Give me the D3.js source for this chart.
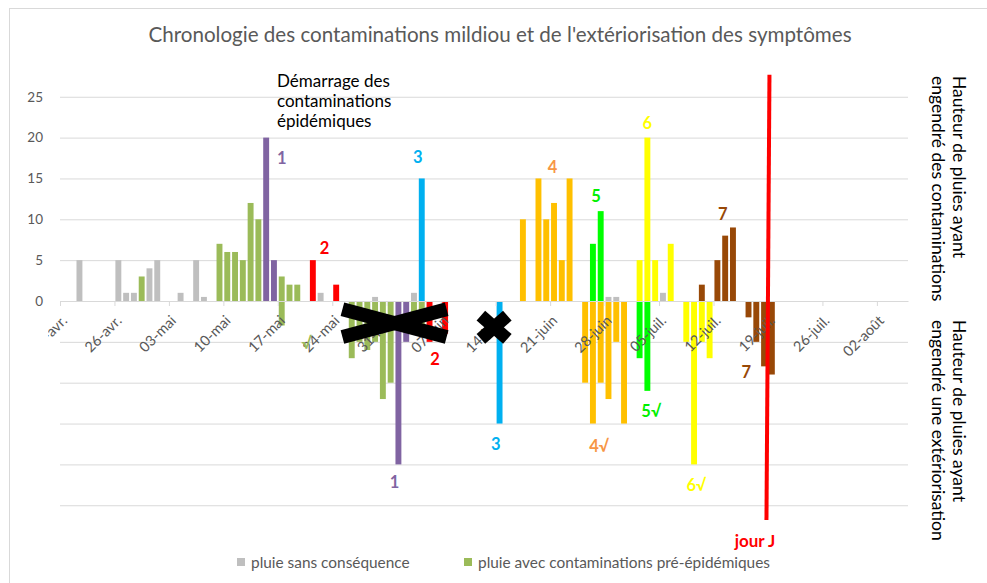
<!DOCTYPE html>
<html><head><meta charset="utf-8">
<script src="https://cdn.jsdelivr.net/npm/d3@7"></script>
<style>body{margin:0;background:#fff}svg{display:block;font-family:Lato,'Open Sans',sans-serif}</style>
</head><body><svg id="c" width="987" height="583"></svg>
<script>
// ---------- DATA ----------
const startDate = "2021-04-19";
const endDate = "2021-08-06";
const tickDates = ["2021-04-19","2021-04-26","2021-05-03","2021-05-10","2021-05-17","2021-05-24","2021-05-31","2021-06-07","2021-06-14","2021-06-21","2021-06-28","2021-07-05","2021-07-12","2021-07-19","2021-07-26","2021-08-02"];
const tickLabels = ["19-avr.","26-avr.","03-mai","10-mai","17-mai","24-mai","31-mai","07-juin","14-juin","21-juin","28-juin","05-juil.","12-juil.","19-juil.","26-juil.","02-août"];
const yTickValues = [0,5,10,15,20,25];
const gridValues = [-25,-20,-15,-10,-5,0,5,10,15,20,25];

// rain having caused contaminations (upper bars)
const upDates = ["2021-04-21","2021-04-26","2021-04-27","2021-04-28","2021-04-29","2021-04-30","2021-05-01","2021-05-04","2021-05-06","2021-05-07",
  "2021-05-09","2021-05-10","2021-05-11","2021-05-12","2021-05-13","2021-05-14","2021-05-15","2021-05-16","2021-05-17","2021-05-18","2021-05-19",
  "2021-05-21","2021-05-22","2021-05-24","2021-05-29","2021-06-03","2021-06-04",
  "2021-06-17","2021-06-19","2021-06-20","2021-06-21","2021-06-22","2021-06-23",
  "2021-06-26","2021-06-27","2021-06-28","2021-06-29",
  "2021-07-02","2021-07-03","2021-07-04","2021-07-05","2021-07-06",
  "2021-07-10","2021-07-12","2021-07-13","2021-07-14"];
const upValues = [5,5,1,1,3,4,5,1,5,0.5,
  7,6,6,5,12,10,20,5,3,2,2,
  5,1,2,0.5,1,15,
  10,15,10,12,5,15,
  7,11,0.5,0.5,
  5,20,5,1,7,
  2,5,8,9];
const upGroups = ["sans","sans","sans","sans","pre","sans","sans","sans","sans","sans",
  "pre","pre","pre","pre","pre","pre","1","1","pre","pre","pre",
  "2","sans","2","sans","sans","3",
  "4","4","4","4","4","4",
  "5","5","sans","sans",
  "6","6","6","sans","6",
  "7","7","7","7"];

// rain having caused an exteriorisation (lower bars)
const downDates = ["2021-05-17","2021-05-26","2021-05-27","2021-05-28","2021-05-29","2021-05-30","2021-05-31","2021-06-01","2021-06-02","2021-06-03","2021-06-04","2021-06-05","2021-06-07",
  "2021-06-14",
  "2021-06-25","2021-06-26","2021-06-27","2021-06-28","2021-06-29","2021-06-30",
  "2021-07-02","2021-07-03",
  "2021-07-08","2021-07-09","2021-07-10","2021-07-11",
  "2021-07-16","2021-07-17","2021-07-18","2021-07-19"];
const downValues = [-3,-7,-5,-6,-5,-12,-10,-20,-5,-4,-3,-5,-4,
  -15,
  -10,-15,-10,-12,-5,-15,
  -7,-11,
  -5,-20,-5,-7,
  -2,-5,-8,-9];
const downGroups = ["pre","pre","pre","pre","pre","pre","pre","1","1","pre","pre","2","2",
  "3",
  "4","4","4","4","4","4",
  "5","5",
  "6","6","6","6",
  "7","7","7","7"];

const groupKeys = ["sans","pre","1","2","3","4","5","6","7"];
const groupColors = ["#BFBFBF","#9BBB59","#8064A2","#FF0000","#00B0F0","#FFC000","#00FF00","#FFFF00","#984807"];

// period labels (day offset from start, value)
const upLabelTexts = ["1","2","3","4","5","6","7"];
const upLabelDays = [28.5,34.0,46.0,63.3,68.9,75.5,85.2];
const upLabelValues = [17.5,6.5,17.6,16.4,12.9,21.8,10.6];
const downLabelTexts = ["√","1","2","3","4√","5√","6√","7"];
const downLabelDays = [31.7,43.0,48.2,56.0,69.3,76.0,81.8,88.2];
const downLabelValues = [-5.1,-22.1,-7.1,-17.5,-17.7,-13.5,-22.5,-8.7];
const labelColors = {"1":"#8064A2","2":"#FF0000","3":"#00B0F0","4":"#F79646","5":"#00F000","6":"#FFFF00","7":"#984807","√":"#9BBB59"};

const jourJDate = "2021-07-19";
const jourJTop = 27.7, jourJBottom = -26.8;

const legendLabels = ["pluie sans conséquence","pluie avec contaminations pré-épidémiques"];
const legendKeys = ["sans","pre"];

const title = "Chronologie des contaminations mildiou et de l'extériorisation des symptômes";
const noteLines = ["Démarrage des","contaminations","épidémiques"];
const rightTop = ["Hauteur de pluies ayant","engendré des contaminations"];
const rightBottom = ["Hauteur de pluies ayant","engendré une extériorisation"];

// crossed-out periods (day offsets, values)
const crosses = [{d0:36.3,d1:49.7,v0:-1.0,v1:-4.4,w:14},{d0:54.1,d1:57.5,v0:-1.8,v1:-4.65,w:13}];

// ---------- DRAW ----------
const W = 987, H = 583;
const svg = d3.select("#c");
const parse = d3.timeParse("%Y-%m-%d");
const t0 = parse(startDate), t1 = parse(endDate);
const nDays = d3.timeDay.count(t0, t1);
const plot = {left:60, right:908};
const xDay = d3.scaleLinear().domain([0,nDays]).range([plot.left, plot.right]);
const xTime = d3.scaleTime().domain([t0,t1]).range([plot.left, plot.right]);
const y = d3.scaleLinear().domain([-25,25]).range([505.25,96.75]);
const color = d3.scaleOrdinal().domain(groupKeys).range(groupColors);
const step = xDay(1)-xDay(0);
const bw = step*0.76;
const dayOf = s => d3.timeDay.count(t0, parse(s));

svg.append("rect").attr("width",W).attr("height",H).attr("fill","#fff");
svg.append("rect").attr("x",9.5).attr("y",8.5).attr("width",W+20).attr("height",H+20)
  .attr("fill","none").attr("stroke","#D9D9D9");

// title
svg.append("text").attr("x",500).attr("y",41.5).attr("text-anchor","middle")
  .attr("font-size",20.6).attr("fill","#595959").text(title);

// grid
svg.append("g").attr("transform",`translate(${plot.left},0)`)
  .call(d3.axisLeft(y).tickValues(gridValues).tickSize(-(plot.right-plot.left)).tickFormat(""))
  .call(g=>g.select(".domain").remove())
  .call(g=>g.selectAll("line").attr("stroke","#D9D9D9"));

// y labels
svg.append("g").attr("transform",`translate(${plot.left},0)`)
  .call(d3.axisLeft(y).tickValues(yTickValues).tickSize(0).tickPadding(17))
  .call(g=>g.select(".domain").remove())
  .call(g=>g.selectAll("text").attr("font-family","Lato").attr("font-size",13.5).attr("fill","#595959"));

// bars
const up = upDates.map((d,i)=>({day:dayOf(d),v:upValues[i],g:upGroups[i]}));
const down = downDates.map((d,i)=>({day:dayOf(d),v:downValues[i],g:downGroups[i]}));
svg.append("g").selectAll("rect").data(up.concat(down)).join("rect")
  .attr("x",d=>xDay(d.day)+(step-bw)/2).attr("width",bw)
  .attr("y",d=>y(Math.max(0,d.v))).attr("height",d=>Math.abs(y(d.v)-y(0)))
  .attr("fill",d=>color(d.g));

// x axis
const clip = svg.append("clipPath").attr("id","xclip");
clip.append("rect").attr("x",48).attr("y",0).attr("width",W).attr("height",H);
const xAxis = svg.append("g").attr("transform",`translate(0,${y(0)})`).attr("clip-path","url(#xclip)")
  .call(d3.axisBottom(xTime).tickValues(tickDates.map(parse)).tickSize(5).tickSizeOuter(0)
    .tickFormat((d,i)=>tickLabels[i]));
xAxis.select(".domain").attr("stroke","#D9D9D9");
xAxis.selectAll("line").attr("stroke","#D9D9D9");
xAxis.selectAll("text").attr("font-family","Lato").attr("font-size",14.5).attr("fill","#595959")
  .attr("x",0).attr("y",0).attr("dy","0.35em").attr("text-anchor","end")
  .attr("transform","translate(4,17) rotate(-45)");

// jour J line
const xj = xTime(parse(jourJDate));
svg.append("line").attr("x1",xj+1.5).attr("x2",xj-1.5).attr("y1",y(jourJTop)).attr("y2",y(jourJBottom))
  .attr("stroke","#FF0000").attr("stroke-width",4);

// labels
svg.append("g").selectAll("text").data(upLabelTexts).join("text")
  .attr("x",(d,i)=>xDay(upLabelDays[i])).attr("y",(d,i)=>y(upLabelValues[i]))
  .attr("text-anchor","middle").attr("dominant-baseline","central")
  .attr("font-size",16.5).attr("font-weight","bold").attr("fill",d=>labelColors[d[0]]).text(d=>d);
svg.append("g").selectAll("text").data(downLabelTexts).join("text")
  .attr("x",(d,i)=>xDay(downLabelDays[i])).attr("y",(d,i)=>y(downLabelValues[i]))
  .attr("text-anchor","middle").attr("dominant-baseline","central")
  .attr("font-size",16.5).attr("font-weight","bold").attr("fill",d=>labelColors[d[0]]).text(d=>d);
svg.append("text").attr("x",xj-13).attr("y",540).attr("text-anchor","middle").attr("dominant-baseline","central")
  .attr("font-size",17).attr("font-weight","bold").attr("fill","#FF0000").text("jour J");

// note
svg.append("g").selectAll("text").data(noteLines).join("text")
  .attr("x",277).attr("y",(d,i)=>87+i*20).attr("font-size",17).attr("fill","#000").text(d=>d);

// right vertical titles
function vtitle(lines, yTop){
  svg.append("g").selectAll("text").data(lines).join("text")
    .attr("transform",(d,i)=>`translate(${953-i*21},${yTop}) rotate(90)`)
    .attr("font-size",17.5).attr("fill","#000").text(d=>d);
}
vtitle(rightTop, 76);
vtitle(rightBottom, 320);

// crosses
const cg = svg.append("g");
crosses.forEach(c=>{
  [[c.v0,c.v1],[c.v1,c.v0]].forEach(([a,b])=>{
    cg.append("line").attr("x1",xDay(c.d0)).attr("x2",xDay(c.d1)).attr("y1",y(a)).attr("y2",y(b))
      .attr("stroke","#000").attr("stroke-width",c.w);
  });
});

// legend
const lx = [237,464];
legendLabels.forEach((t,i)=>{
  svg.append("rect").attr("x",lx[i]).attr("y",558).attr("width",8).attr("height",8).attr("fill",color(legendKeys[i]));
  svg.append("text").attr("x",lx[i]+14).attr("y",568).attr("font-size",15.4).attr("fill","#595959").text(t);
});
</script></body></html>
